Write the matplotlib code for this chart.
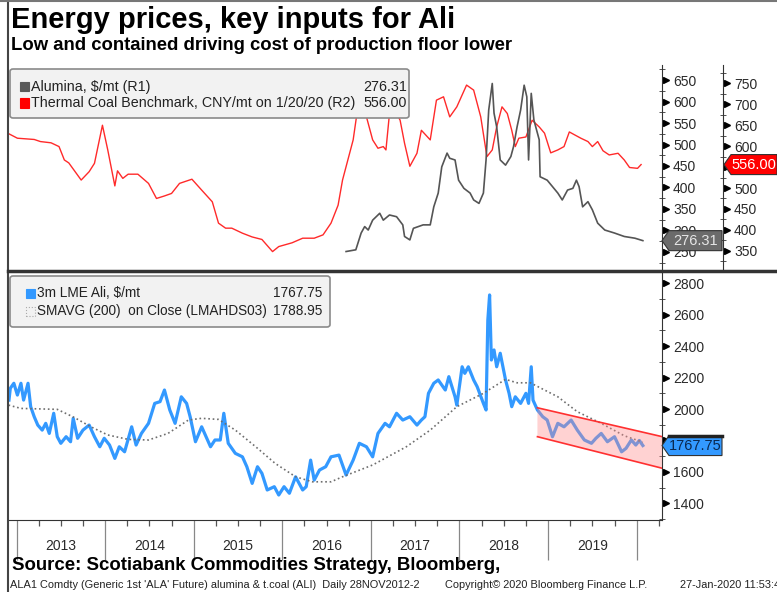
import matplotlib.pyplot as plt
from matplotlib import font_manager
from matplotlib.patches import FancyBboxPatch, Polygon, Rectangle
from matplotlib.lines import Line2D
from matplotlib.transforms import blended_transform_factory

W, H = 777, 592

# Thermal coal benchmark, CNY/mt (right axis R2) - decimal years
coal_t = [2012.91, 2013.01, 2013.20, 2013.27, 2013.39, 2013.48, 2013.54, 2013.59, 2013.73, 2013.82,
          2013.88, 2013.97, 2014.03, 2014.11, 2014.14, 2014.20, 2014.26, 2014.37, 2014.49, 2014.58,
          2014.67, 2014.75, 2014.84, 2014.98, 2015.09, 2015.21, 2015.28, 2015.36, 2015.43, 2015.55,
          2015.66, 2015.77, 2015.89, 2015.96, 2016.11, 2016.23, 2016.36, 2016.46, 2016.55, 2016.63,
          2016.68, 2016.74, 2016.80, 2016.84, 2016.89, 2016.95, 2017.02, 2017.08, 2017.14, 2017.17,
          2017.21, 2017.27, 2017.33, 2017.38, 2017.44, 2017.52, 2017.57, 2017.67, 2017.74, 2017.82,
          2017.89, 2017.97, 2018.08, 2018.16, 2018.24, 2018.31, 2018.37, 2018.42, 2018.48, 2018.54,
          2018.59, 2018.63, 2018.67, 2018.75, 2018.82, 2018.90, 2018.96, 2019.03, 2019.11, 2019.18,
          2019.24, 2019.30, 2019.37, 2019.45, 2019.50, 2019.56, 2019.62, 2019.69, 2019.79, 2019.86,
          2019.92, 2020.01, 2020.05]
coal_v = [630, 619, 616, 611, 608, 599, 567, 560, 519, 539,
          559, 650, 591, 505, 541, 523, 533, 533, 511, 475,
          481, 487, 511, 521, 495, 467, 416, 404, 404, 392,
          383, 377, 348, 360, 369, 380, 380, 388, 416, 459,
          519, 567, 615, 674, 734, 670, 615, 595, 599, 591,
          678, 686, 662, 607, 552, 583, 638, 615, 710, 718,
          670, 694, 746, 734, 670, 575, 591, 646, 694, 678,
          638, 599, 619, 622, 662, 646, 631, 584, 591, 599,
          634, 627, 619, 611, 599, 611, 589, 579, 583, 567,
          549, 547, 556]

# Alumina, $/mt (right axis R1)
alu_t = [2016.72, 2016.83, 2016.89, 2016.93, 2016.97, 2017.02, 2017.10, 2017.14, 2017.21, 2017.29,
         2017.36, 2017.38, 2017.44, 2017.48, 2017.59, 2017.67, 2017.71, 2017.76, 2017.80, 2017.86,
         2017.89, 2017.95, 2017.99, 2018.05, 2018.12, 2018.16, 2018.22, 2018.27, 2018.30, 2018.33,
         2018.37, 2018.39, 2018.42, 2018.46, 2018.52, 2018.58, 2018.61, 2018.65, 2018.69, 2018.73,
         2018.76, 2018.78, 2018.81, 2018.84, 2018.90, 2018.91, 2018.99, 2019.11, 2019.16, 2019.22,
         2019.28, 2019.32, 2019.35, 2019.39, 2019.45, 2019.50, 2019.56, 2019.64, 2019.75, 2019.86,
         2019.98, 2020.07]
alu_v = [251, 255, 294, 309, 301, 324, 340, 324, 336, 332,
         313, 286, 278, 305, 313, 313, 355, 387, 448, 480,
         468, 464, 417, 398, 387, 371, 363, 387, 464, 580,
         642, 573, 541, 464, 452, 472, 495, 541, 580, 638,
         611, 464, 619, 557, 511, 425, 417, 387, 371, 394,
         398, 417, 402, 355, 367, 348, 317, 301, 294, 286,
         282, 276.31]

# 3m LME Ali, $/mt
ali_t = [2012.915, 2012.93, 2012.97, 2013.01, 2013.05, 2013.08, 2013.13, 2013.16, 2013.20, 2013.24,
         2013.29, 2013.33, 2013.37, 2013.42, 2013.46, 2013.50, 2013.56, 2013.61, 2013.64, 2013.69,
         2013.75, 2013.82, 2013.88, 2013.94, 2013.99, 2014.05, 2014.11, 2014.16, 2014.22, 2014.30,
         2014.35, 2014.41, 2014.49, 2014.56, 2014.62, 2014.67, 2014.73, 2014.79, 2014.86, 2014.92,
         2014.96, 2015.02, 2015.09, 2015.19, 2015.24, 2015.30, 2015.34, 2015.39, 2015.47, 2015.55,
         2015.60, 2015.66, 2015.72, 2015.77, 2015.83, 2015.91, 2015.96, 2016.02, 2016.08, 2016.15,
         2016.23, 2016.27, 2016.32, 2016.36, 2016.42, 2016.49, 2016.55, 2016.64, 2016.72, 2016.80,
         2016.87, 2016.95, 2017.02, 2017.08, 2017.16, 2017.21, 2017.29, 2017.36, 2017.44, 2017.52,
         2017.57, 2017.61, 2017.65, 2017.71, 2017.76, 2017.84, 2017.88, 2017.95, 2017.97, 2018.03,
         2018.06, 2018.10, 2018.16, 2018.20, 2018.27, 2018.30, 2018.32, 2018.34, 2018.36, 2018.39,
         2018.42, 2018.46, 2018.52, 2018.56, 2018.59, 2018.63, 2018.69, 2018.75, 2018.78, 2018.81,
         2018.83, 2018.88, 2018.94, 2018.99, 2019.05, 2019.11, 2019.18, 2019.26, 2019.33, 2019.41,
         2019.49, 2019.54, 2019.60, 2019.67, 2019.75, 2019.83, 2019.88, 2019.94, 2019.99, 2020.03,
         2020.07]
ali_v = [2057, 2132, 2164, 2089, 2164, 2057, 2164, 2015, 1951, 1898,
         1866, 1909, 1845, 1973, 1824, 1782, 1824, 1792, 1941, 1814,
         1866, 1898, 1824, 1760, 1814, 1771, 1686, 1760, 1728, 1887,
         1771, 1845, 1909, 2036, 2047, 2121, 1994, 1909, 2078, 2036,
         1951, 1792, 1887, 1760, 1803, 1803, 1973, 1782, 1718, 1696,
         1633, 1527, 1633, 1591, 1485, 1506, 1453, 1506, 1464, 1569,
         1485, 1506, 1675, 1548, 1612, 1633, 1696, 1707, 1580, 1675,
         1782, 1760, 1696, 1845, 1909, 1887, 1973, 1930, 1951, 1898,
         1930, 1951, 2100, 2164, 2185, 2121, 2206, 2078, 2025, 2269,
         2227, 2269, 2185, 2142, 2036, 1994, 2566, 2726, 2312, 2376,
         2269, 2355, 2185, 2100, 2015, 2078, 2036, 2100, 2036, 2269,
         2057, 1994, 1951, 1930, 1824, 1909, 1887, 1930, 1866, 1803,
         1782, 1814, 1845, 1792, 1824, 1728, 1750, 1803, 1771, 1800,
         1767.75]

# SMAVG (200) on close
sma_t = [2012.91, 2013.05, 2013.46, 2013.65, 2013.84, 2014.03, 2014.26, 2014.49, 2014.71, 2014.94,
         2015.09, 2015.28, 2015.47, 2015.70, 2015.92, 2016.15, 2016.34, 2016.55, 2016.68, 2017.02,
         2017.40, 2017.67, 2017.97, 2018.27, 2018.52, 2018.65, 2018.80, 2019.11, 2019.33, 2019.60,
         2019.86, 2020.07]
sma_v = [2025, 2004, 1998, 1947, 1887, 1835, 1807, 1803, 1845, 1930,
         1941, 1934, 1866, 1760, 1654, 1569, 1537, 1537, 1569, 1644,
         1760, 1866, 2015, 2100, 2189, 2167, 2167, 2078, 1983, 1909,
         1830, 1788.95]

# downward channel
chan_t = [2018.88, 2020.29]
chan_hi = [2008, 1824]
chan_lo = [1824, 1623]

years = [2013, 2014, 2015, 2016, 2017, 2018, 2019]


def pick(cands):
    names = {f.name for f in font_manager.fontManager.ttflist}
    return [c for c in cands if c in names] + ['DejaVu Sans']


SANS = pick(['Liberation Sans', 'Roboto', 'Noto Sans'])
plt.rcParams['font.family'] = SANS

fig = plt.figure(figsize=(W / 100, H / 100), dpi=100)
fig.patch.set_facecolor('white')


def fx(px):
    return px / W


def fy(py):
    return 1 - py / H


x_lo, x_hi = 2012.904, 2020.286


def style_right(ax, ticks, minor, pos=1.0, hide=None):
    for s in ['top', 'bottom', 'left']:
        ax.spines[s].set_visible(False)
    ax.spines['right'].set_position(('axes', pos))
    ax.spines['right'].set_color('#333333')
    ax.yaxis.set_ticks_position('right')
    ax.set_yticks(ticks)
    ax.set_yticklabels(['' if t == hide else str(t) for t in ticks])
    ax.set_yticks(minor, minor=True)
    ax.tick_params(axis='y', which='major', length=0, pad=8, labelsize=10, labelcolor='#2a2a2a')
    ax.tick_params(axis='y', which='minor', length=4, direction='inout', color='#333333')
    tr = blended_transform_factory(ax.transAxes, ax.transData)
    ax.plot([pos + 3.5 / 654] * len(ticks), ticks, ls='none', marker='>', ms=4.5,
            color='black', transform=tr, clip_on=False)


# ---------- top panel ----------
ax1 = fig.add_axes([fx(8), fy(270), fx(662) - fx(8), (270 - 65) / H])
ax1.patch.set_alpha(0)
ax2 = ax1.twinx()
ax2.set_zorder(ax1.get_zorder() - 1)
ax1.plot(alu_t, alu_v, color='#555555', lw=1.2)
ax2.plot(coal_t, coal_v, color='#ff2a2a', lw=1.0)
ax1.set_xlim(x_lo, x_hi)
ax1.set_ylim(208, 685)
ax2.set_ylim(304, 794)
ax1.set_xticks([])
style_right(ax1, list(range(250, 651, 50)), list(range(225, 676, 50)))
style_right(ax2, list(range(350, 751, 50)), list(range(325, 776, 50)), pos=1 + 61 / 654, hide=550)

# ---------- bottom panel ----------
ax3 = fig.add_axes([fx(8), fy(520), fx(662) - fx(8), (520 - 272) / H])
ax3.plot(ali_t, ali_v, color='#3399ff', lw=2.3, zorder=3)
ax3.plot(sma_t, sma_v, color='#6e6e6e', lw=1.2, ls=':', zorder=3)
ax3.fill_between(chan_t, chan_lo, chan_hi, facecolor='#ff8a8a', alpha=0.38, lw=0, zorder=4)
ax3.plot(chan_t, chan_hi, color='#ff3030', lw=1.2, zorder=5)
ax3.plot(chan_t, chan_lo, color='#ff3030', lw=1.2, zorder=5)
ax3.set_xlim(x_lo, x_hi)
ax3.set_ylim(1294, 2872)
style_right(ax3, list(range(1400, 2801, 200)), list(range(1300, 2801, 200)), hide=1800)
ax3.spines['bottom'].set_visible(True)
ax3.spines['bottom'].set_color('#333333')

quarters = [y + q for y in years for q in (0.25, 0.5, 0.75)] + [2020.25]
qlabels = [str(int(q)) if abs(q % 1 - 0.5) < 1e-6 else '' for q in quarters]
ax3.set_xticks(years + [2020])
ax3.set_xticklabels([''] * 8)
ax3.set_xticks(quarters, minor=True)
ax3.set_xticklabels(qlabels, minor=True)
ax3.tick_params(axis='x', which='major', length=29, width=0.9, color='#888888')
ax3.tick_params(axis='x', which='minor', length=4.5, width=0.9, color='#555555',
                pad=9, labelsize=10, labelcolor='#2a2a2a')

# ---------- frame lines ----------
fig.add_artist(Line2D([fx(8), fx(8)], [0, 1], color='#444444', lw=1.5))
fig.add_artist(Line2D([0, 1], [fy(1), fy(1)], color='#777777', lw=1.5))
fig.add_artist(Line2D([fx(8), 1], [fy(271), fy(271)], color='#333333', lw=2.5))

renderer = fig.canvas.get_renderer()


def fit(t, width_px):
    bb = t.get_window_extent(renderer=renderer)
    t.set_fontsize(t.get_fontsize() * width_px / bb.width)
    return t.get_fontsize()


# ---------- titles ----------
t_title = fig.text(fx(11), fy(20), 'Energy prices, key inputs for Ali', fontsize=20, fontweight='bold',
                   va='center', ha='left', color='black')
fit(t_title, 443)
t_sub = fig.text(fx(11), fy(46), 'Low and contained driving cost of production floor lower', fontsize=13,
                 fontweight='bold', va='center', ha='left', color='black')
fit(t_sub, 502)


# ---------- legends ----------
def legend_box(x0, y0, x1, y1):
    fig.patches.append(FancyBboxPatch((fx(x0), fy(y1)), fx(x1) - fx(x0), (y1 - y0) / H,
                                      boxstyle='round,pad=0,rounding_size=0.004',
                                      transform=fig.transFigure, facecolor='#f2f2f2',
                                      edgecolor='#8a8a8a', lw=1.2, zorder=5))


def square(x0, yc, color, dotted=False):
    fig.patches.append(Rectangle((fx(x0), fy(yc + 4.5)), 9 / W, 9 / H, transform=fig.transFigure,
                                 facecolor='none' if dotted else color,
                                 edgecolor='#aaaaaa' if dotted else color,
                                 ls=':' if dotted else '-', lw=0.8, zorder=6))


legend_box(10, 69, 409, 118)
square(20, 87, '#5a5a5a')
square(20, 103, '#ff0000')
t_long = fig.text(fx(31), fy(103), 'Thermal Coal Benchmark, CNY/mt on 1/20/20 (R2)', fontsize=10,
                  va='center', color='#222222', zorder=7)
fs = fit(t_long, 324)
fig.text(fx(31), fy(87), 'Alumina, $/mt (R1)', fontsize=fs, va='center', color='#222222', zorder=7)
fig.text(fx(407), fy(87), '276.31', fontsize=fs, va='center', ha='right', color='#222222', zorder=7)
fig.text(fx(407), fy(103), '556.00', fontsize=fs, va='center', ha='right', color='#222222', zorder=7)

legend_box(10, 276, 330, 327)
square(26, 293, '#3399ff')
square(26, 311, '#aaaaaa', dotted=True)
fig.add_artist(Line2D([fx(20), fx(20), fx(25)], [fy(295), fy(311), fy(311)], color='#aaaaaa', lw=0.8))
t_sma = fig.text(fx(37), fy(311), 'SMAVG (200)  on Close (LMAHDS03)', fontsize=10, va='center',
                 color='#222222', zorder=7)
fs2 = fit(t_sma, 231)
fig.text(fx(37), fy(293), '3m LME Ali, $/mt', fontsize=fs2, va='center', color='#222222', zorder=7)
fig.text(fx(322), fy(293), '1767.75', fontsize=fs2, va='center', ha='right', color='#222222', zorder=7)
fig.text(fx(322), fy(311), '1788.95', fontsize=fs2, va='center', ha='right', color='#222222', zorder=7)


# ---------- last-value tags ----------
def tag(ax, value, x0, x1, face, tcolor, label, top_border=False):
    y = ax.transData.transform((ax.get_xlim()[0], value))[1]
    h = 20
    pts = [(x0, y), (x0 + 7, y + h / 2), (x1, y + h / 2), (x1, y - h / 2), (x0 + 7, y - h / 2)]
    fig.patches.append(Polygon([(px / W, py / H) for px, py in pts], closed=True,
                               transform=fig.transFigure, facecolor=face, edgecolor='#333333',
                               lw=0.8, zorder=10))
    if top_border:
        fig.add_artist(Line2D([(x0 + 7) / W, x1 / W], [(y + h / 2) / H] * 2, color='#222222', lw=2.5,
                              zorder=11))
    fig.text((x0 + 7 + x1) / 2 / W, y / H, label, fontsize=10.5, ha='center', va='center',
             color=tcolor, zorder=12)


tag(ax1, alu_v[-1], 662, 722, '#6b6b6b', '#e6e6e6', '276.31')
tag(ax2, coal_v[-1], 724, 777, '#ff0000', 'white', '556.00')
tag(ax3, ali_v[-1], 662, 722, '#3399ff', '#0a2850', '1767.75', top_border=True)

# ---------- footer ----------
t_src = fig.text(fx(12), fy(566), 'Source: Scotiabank Commodities Strategy, Bloomberg,', fontsize=13,
                 fontweight='bold', va='center', color='black')
fit(t_src, 488)
t_foot = fig.text(fx(10), fy(585), "ALA1 Comdty (Generic 1st 'ALA' Future) alumina & t.coal (ALI)  Daily 28NOV2012-2",
                  fontsize=7.5, va='center', color='#222222')
fs3 = fit(t_foot, 408)
fig.text(fx(445), fy(585), 'Copyright\u00a9 2020 Bloomberg Finance L.P.', fontsize=fs3,
         va='center', color='#222222')
fig.text(fx(680), fy(585), '27-Jan-2020 11:53:45', fontsize=fs3, va='center', color='#222222')

fig.savefig('out.png', dpi=100)
